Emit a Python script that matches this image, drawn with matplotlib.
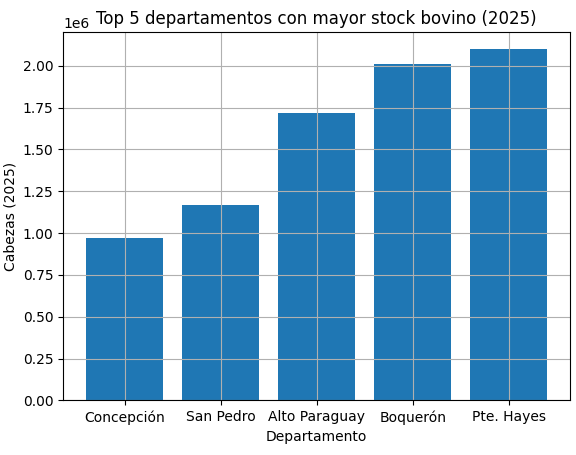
import matplotlib
matplotlib.use('Agg')
import matplotlib.pyplot as plt

departamentos = ['Concepción', 'San Pedro', 'Alto Paraguay', 'Boquerón', 'Pte. Hayes']
cabezas = [972000, 1168000, 1718000, 2012000, 2098000]

fig, ax = plt.subplots(figsize=(5.76, 4.55), dpi=100)
ax.bar(departamentos, cabezas)
ax.set_title('Top 5 departamentos con mayor stock bovino (2025)')
ax.set_xlabel('Departamento')
ax.set_ylabel('Cabezas (2025)')
ax.grid(True)
fig.subplots_adjust(left=0.11, right=0.99, top=0.93, bottom=0.12)
fig.savefig('out.png')
